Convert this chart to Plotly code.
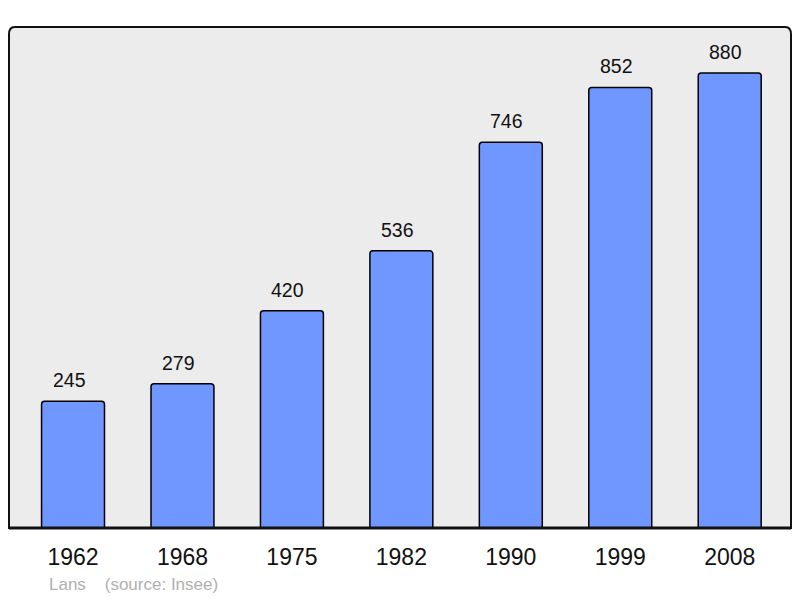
import plotly.graph_objects as go

years = ["1962", "1968", "1975", "1982", "1990", "1999", "2008"]
population = [245, 279, 420, 536, 746, 852, 880]
town = "Lans"
source = "(source: Insee)"

x = list(range(len(years)))
FONT = "Liberation Sans, Arial"

fig = go.Figure()
fig.add_trace(go.Bar(
    x=x, y=population, width=0.575,
    marker=dict(color="#6f97ff", line=dict(color="#000000", width=1.5), cornerradius=3),
    hoverinfo="skip",
))

for xi, v in zip(x, population):
    fig.add_annotation(x=xi, y=v, text=str(v), showarrow=False, yanchor="bottom",
                       yshift=8, xshift=-4, font=dict(family=FONT, size=19.5, color="#111111"))

fig.add_annotation(xref="paper", yref="paper", x=0.048, y=-0.089, xanchor="left", yanchor="top",
                   text=town + "    " + source, showarrow=False,
                   font=dict(family=FONT, size=17, color="#b0b0b0"))

# border with rounded corners
fig.add_shape(type="path", xref="paper", yref="paper",
              path="M 0,0 L 0,0.985 Q 0,1 0.007,1 L 0.993,1 Q 1,1 1,0.985 L 1,0 Z",
              line=dict(color="#111111", width=2), layer="above")
fig.add_shape(type="line", xref="paper", yref="paper", x0=0, x1=1, y0=0, y1=0,
              line=dict(color="#111111", width=3), layer="above")

fig.update_layout(
    width=792, height=590,
    margin=dict(l=1, r=9, t=19, b=70),
    paper_bgcolor="white", plot_bgcolor="#ececec",
    showlegend=False,
    xaxis=dict(tickmode="array", tickvals=x, ticktext=years, range=[-0.585, 6.56],
               showgrid=False, zeroline=False, ticks="outside", ticklen=8,
               tickcolor="rgba(0,0,0,0)",
               tickfont=dict(family=FONT, size=23, color="#111111")),
    yaxis=dict(range=[0, 969], showgrid=False, zeroline=False, showticklabels=False),
)
fig.write_html("out.html")
